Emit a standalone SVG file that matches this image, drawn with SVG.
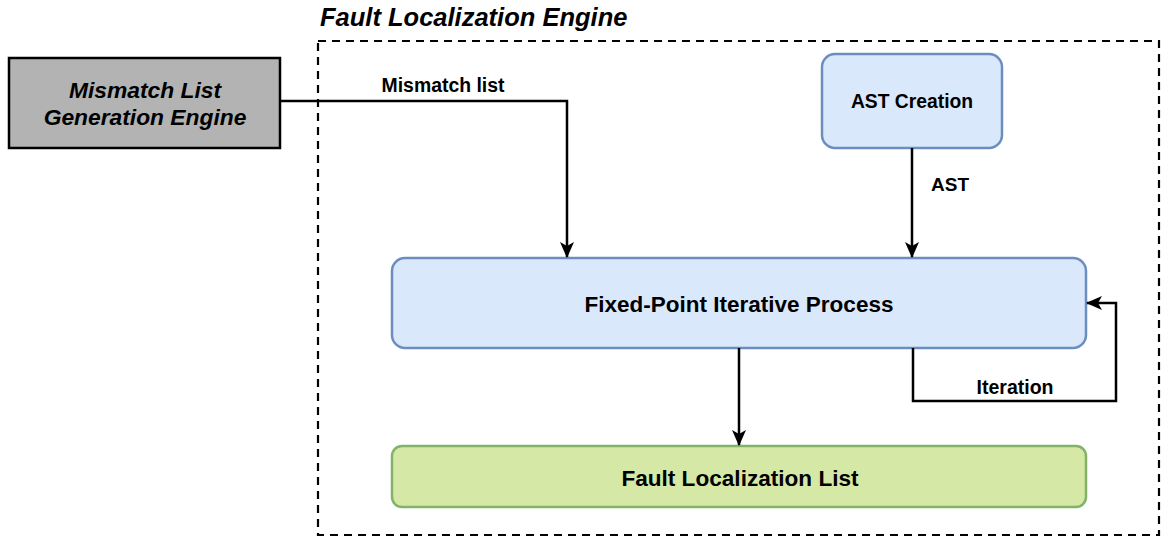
<svg xmlns="http://www.w3.org/2000/svg" width="1161" height="537" viewBox="0 0 1161 537">
  <style>
    .lbl { font-family: "Liberation Sans", Arial, sans-serif; font-weight: bold; fill: #000; text-anchor: middle; }
    .blue { fill: #dae8fc; stroke: #6c8ebf; stroke-width: 2.5; }
    .green { fill: #d5e8a6; stroke: #82b366; stroke-width: 2.5; }
    .edge { fill: none; stroke: #000; stroke-width: 2.5; }
  </style>
  <defs>
    <marker id="arrow" viewBox="0 0 16 14" refX="15" refY="7" markerWidth="16" markerHeight="14" markerUnits="userSpaceOnUse" orient="auto">
      <path d="M0,0 L16,7 L0,14 L4,7 Z" fill="#000"/>
    </marker>
  </defs>
  <rect width="1161" height="537" fill="#fff"/>

  <!-- container -->
  <g id="fault-localization-engine">
    <rect x="318" y="41" width="841" height="494" fill="none" stroke="#000" stroke-width="2.2" stroke-dasharray="8 6"/>
    <text class="lbl" x="320" y="26" font-size="25.5" font-style="italic" style="text-anchor:start">Fault Localization Engine</text>
  </g>

  <!-- external engine -->
  <g id="mismatch-engine">
    <rect x="9" y="58" width="271" height="90" fill="#b3b3b3" stroke="#000" stroke-width="2.5"/>
    <text class="lbl" x="145" y="98" font-size="22.8" font-style="italic">Mismatch List</text>
    <text class="lbl" x="145" y="125" font-size="22.8" font-style="italic">Generation Engine</text>
  </g>

  <g id="ast-creation">
    <rect class="blue" x="822" y="54" width="180" height="94" rx="13"/>
    <text class="lbl" x="912" y="108" font-size="19.3">AST Creation</text>
  </g>

  <g id="fixed-point">
    <rect class="blue" x="392" y="258" width="694" height="90" rx="13"/>
    <text class="lbl" x="739" y="312" font-size="22.5">Fixed-Point Iterative Process</text>
  </g>

  <g id="fault-list">
    <rect class="green" x="392" y="446" width="694" height="61" rx="10"/>
    <text class="lbl" x="740" y="486" font-size="22.6">Fault Localization List</text>
  </g>

  <!-- connectors -->
  <g id="edges">
    <path class="edge" d="M280,101 H567 V257" marker-end="url(#arrow)"/>
    <text class="lbl" x="443" y="92" font-size="19.4">Mismatch list</text>

    <path class="edge" d="M912,148 V257" marker-end="url(#arrow)"/>
    <text class="lbl" x="950" y="191" font-size="19">AST</text>

    <path class="edge" d="M739,348 V445" marker-end="url(#arrow)"/>

    <path class="edge" d="M913,348 V401 H1116 V303 H1087" marker-end="url(#arrow)"/>
    <text class="lbl" x="1015" y="394" font-size="19.5">Iteration</text>
  </g>
</svg>
